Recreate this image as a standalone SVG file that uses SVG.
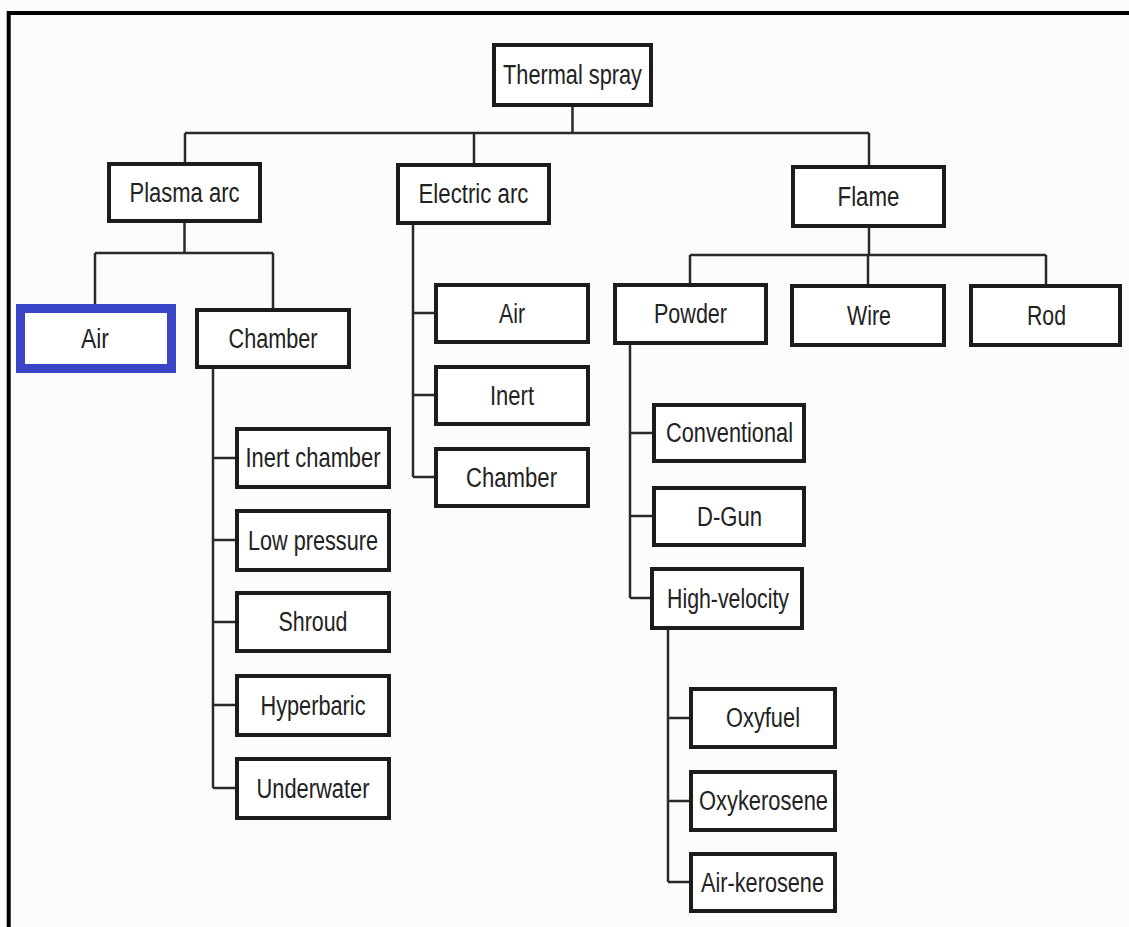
<svg xmlns="http://www.w3.org/2000/svg" width="1129" height="927" viewBox="0 0 1129 927">
<style>
.box{fill:#ffffff;stroke:#1c1c1c;stroke-width:4}
.hl{fill:#ffffff;stroke:#3a44c6;stroke-width:9}
.t{font-family:"Liberation Sans",Arial,sans-serif;font-size:27px;fill:#222222;text-anchor:middle}
.c{fill:none;stroke:#2a2a2a;stroke-width:2.5}
.frame{fill:none;stroke:#000;stroke-width:4}
</style>
<rect width="1129" height="927" fill="#fcfcfc"/>
<path class="frame" d="M8.7 927 V13 H1129"/>
<g id="connectors">
<path class="c" d="M572.5 107 V133 M185 133 H869 M185 133 V162 M474 133 V163 M869 133 V165"/>
<path class="c" d="M184.5 223 V253 M95 253 H273 M95 253 V304 M273 253 V308"/>
<path class="c" d="M213 369 V788 M213 458 H235 M213 540 H235 M213 622 H235 M213 705 H235 M213 788 H235"/>
<path class="c" d="M413 225 V477 M413 313 H434 M413 395 H434 M413 477 H434"/>
<path class="c" d="M869 228 V255 M690 255 H1046 M690 255 V283 M868 255 V284 M1046 255 V284"/>
<path class="c" d="M630 345 V598 M630 433 H652 M630 516 H652 M630 598 H650"/>
<path class="c" d="M668 630 V882 M668 718 H689 M668 801 H689 M668 882 H689"/>
</g>
<g id="thermal-spray"><rect class="box" x="494" y="45" width="157" height="60"/><text class="t" x="572.5" y="84" textLength="139" lengthAdjust="spacingAndGlyphs">Thermal spray</text></g>
<g id="plasma-arc"><rect class="box" x="109" y="164" width="151" height="57"/><text class="t" x="184.5" y="201.5" textLength="110" lengthAdjust="spacingAndGlyphs">Plasma arc</text></g>
<g id="electric-arc"><rect class="box" x="398" y="165" width="151" height="58"/><text class="t" x="473.5" y="203" textLength="110" lengthAdjust="spacingAndGlyphs">Electric arc</text></g>
<g id="flame"><rect class="box" x="793" y="167" width="151" height="59"/><text class="t" x="868.5" y="205.5" textLength="62" lengthAdjust="spacingAndGlyphs">Flame</text></g>
<g id="plasma-air"><rect class="hl" x="20.5" y="308.5" width="151" height="60"/><text class="t" x="95" y="347.5" textLength="28" lengthAdjust="spacingAndGlyphs">Air</text></g>
<g id="plasma-chamber"><rect class="box" x="197" y="310" width="152" height="57"/><text class="t" x="273" y="347.5" textLength="89" lengthAdjust="spacingAndGlyphs">Chamber</text></g>
<g id="inert-chamber"><rect class="box" x="237" y="429" width="152" height="58"/><text class="t" x="313" y="467" textLength="135" lengthAdjust="spacingAndGlyphs">Inert chamber</text></g>
<g id="low-pressure"><rect class="box" x="237" y="511" width="152" height="59"/><text class="t" x="313" y="549.5" textLength="130" lengthAdjust="spacingAndGlyphs">Low pressure</text></g>
<g id="shroud"><rect class="box" x="237" y="593" width="152" height="58"/><text class="t" x="313" y="631" textLength="69" lengthAdjust="spacingAndGlyphs">Shroud</text></g>
<g id="hyperbaric"><rect class="box" x="237" y="676" width="152" height="59"/><text class="t" x="313" y="714.5" textLength="105" lengthAdjust="spacingAndGlyphs">Hyperbaric</text></g>
<g id="underwater"><rect class="box" x="237" y="759" width="152" height="59"/><text class="t" x="313" y="797.5" textLength="113" lengthAdjust="spacingAndGlyphs">Underwater</text></g>
<g id="electric-air"><rect class="box" x="436" y="285" width="152" height="57"/><text class="t" x="512" y="322.5" textLength="26" lengthAdjust="spacingAndGlyphs">Air</text></g>
<g id="electric-inert"><rect class="box" x="436" y="367" width="152" height="57"/><text class="t" x="512" y="404.5" textLength="44" lengthAdjust="spacingAndGlyphs">Inert</text></g>
<g id="electric-chamber"><rect class="box" x="436" y="449" width="152" height="57"/><text class="t" x="511.5" y="486.5" textLength="91" lengthAdjust="spacingAndGlyphs">Chamber</text></g>
<g id="powder"><rect class="box" x="615" y="285" width="151" height="58"/><text class="t" x="690.5" y="323" textLength="73" lengthAdjust="spacingAndGlyphs">Powder</text></g>
<g id="wire"><rect class="box" x="792" y="286" width="152" height="59"/><text class="t" x="869" y="324.5" textLength="44" lengthAdjust="spacingAndGlyphs">Wire</text></g>
<g id="rod"><rect class="box" x="971" y="286" width="149" height="59"/><text class="t" x="1046.5" y="324.5" textLength="39" lengthAdjust="spacingAndGlyphs">Rod</text></g>
<g id="conventional"><rect class="box" x="654" y="405" width="150" height="56"/><text class="t" x="729.5" y="442" textLength="127" lengthAdjust="spacingAndGlyphs">Conventional</text></g>
<g id="d-gun"><rect class="box" x="654" y="488" width="150" height="57"/><text class="t" x="729.5" y="525.5" textLength="65" lengthAdjust="spacingAndGlyphs">D-Gun</text></g>
<g id="high-velocity"><rect class="box" x="652" y="569" width="150" height="59"/><text class="t" x="728" y="607.5" textLength="122" lengthAdjust="spacingAndGlyphs">High-velocity</text></g>
<g id="oxyfuel"><rect class="box" x="691" y="689" width="144" height="58"/><text class="t" x="763" y="727" textLength="74" lengthAdjust="spacingAndGlyphs">Oxyfuel</text></g>
<g id="oxykerosene"><rect class="box" x="691" y="772" width="144" height="58"/><text class="t" x="763.5" y="810" textLength="129" lengthAdjust="spacingAndGlyphs">Oxykerosene</text></g>
<g id="air-kerosene"><rect class="box" x="691" y="854" width="144" height="57"/><text class="t" x="762.5" y="891.5" textLength="123" lengthAdjust="spacingAndGlyphs">Air-kerosene</text></g>
</svg>
